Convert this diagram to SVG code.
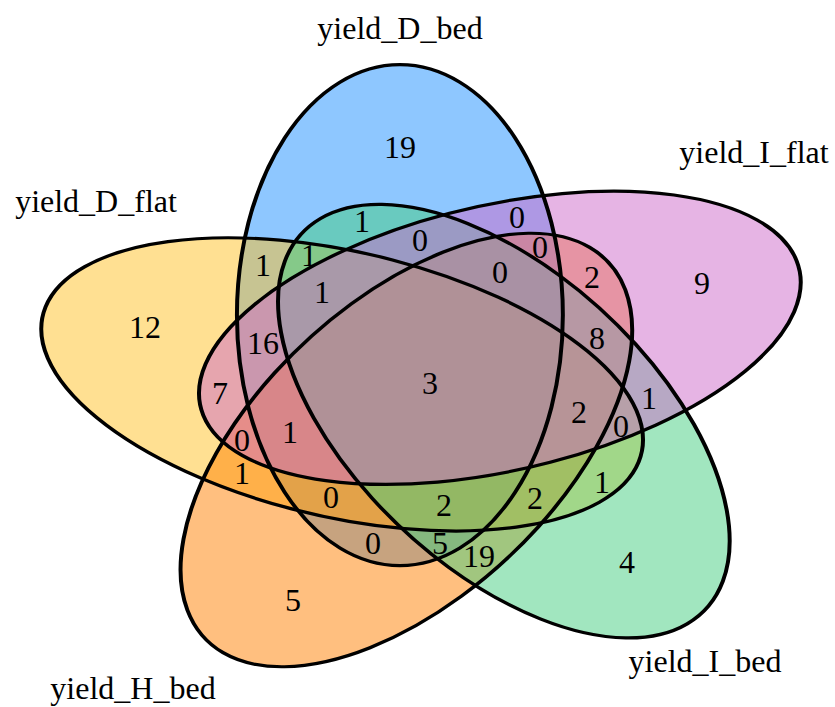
<svg xmlns="http://www.w3.org/2000/svg" width="835" height="707" viewBox="0 0 835 707">
<style>
.f{fill-opacity:0.5;stroke:none}
.o{fill:none;stroke:#000;stroke-width:3.2}
text{font-family:"Liberation Serif","Times New Roman",serif;font-size:32px;fill:#000;text-anchor:middle}
</style>
<defs>
<ellipse id="e0" cx="-24.5" cy="-66.6" rx="130.9" ry="250.5"/>
<ellipse id="e1" cx="55.8" cy="-43.9" rx="130.9" ry="250.5" transform="rotate(72 55.8 -43.9)"/>
<ellipse id="e2" cx="59.0" cy="39.5" rx="130.9" ry="250.5" transform="rotate(144 59.0 39.5)"/>
<ellipse id="e3" cx="-19.3" cy="68.3" rx="130.9" ry="250.5" transform="rotate(216 -19.3 68.3)"/>
<ellipse id="e4" cx="-70.9" cy="2.7" rx="130.9" ry="250.5" transform="rotate(288 -70.9 2.7)"/>
</defs>
<rect width="835" height="707" fill="#fff"/>
<g transform="translate(430.4,381.7) scale(1.245,1)">
<g id="set_D_bed"><use href="#e0" class="f" fill="#1E90FF"/></g>
<g id="set_D_flat"><use href="#e4" class="f" fill="#FFC125"/></g>
<g id="set_H_bed"><use href="#e3" class="f" fill="#FF7F00"/></g>
<g id="set_I_bed"><use href="#e2" class="f" fill="#43CD80"/></g>
<g id="set_I_flat"><use href="#e1" class="f" fill="#CD69C9"/></g>
<g id="outlines">
<use href="#e0" class="o" vector-effect="non-scaling-stroke"/>
<use href="#e1" class="o" vector-effect="non-scaling-stroke"/>
<use href="#e2" class="o" vector-effect="non-scaling-stroke"/>
<use href="#e3" class="o" vector-effect="non-scaling-stroke"/>
<use href="#e4" class="o" vector-effect="non-scaling-stroke"/>
</g>
</g>
<g id="labels">
<text x="400" y="39">yield_D_bed</text>
<text x="754" y="163">yield_I_flat</text>
<text x="96" y="212">yield_D_flat</text>
<text x="133" y="699">yield_H_bed</text>
<text x="705" y="672">yield_I_bed</text>
</g>
<g id="counts">
<text x="400" y="158">19</text>
<text x="702" y="294">9</text>
<text x="627" y="573">4</text>
<text x="293" y="611">5</text>
<text x="145" y="338">12</text>
<text x="362" y="232">1</text>
<text x="517" y="228">0</text>
<text x="263" y="276">1</text>
<text x="309" y="266">1</text>
<text x="420" y="251">0</text>
<text x="540" y="258">0</text>
<text x="500" y="283">0</text>
<text x="592" y="288">2</text>
<text x="322" y="303">1</text>
<text x="263" y="354">16</text>
<text x="597" y="349">8</text>
<text x="430" y="394">3</text>
<text x="220" y="404">7</text>
<text x="579" y="423">2</text>
<text x="649" y="409">1</text>
<text x="621" y="437">0</text>
<text x="242" y="451">0</text>
<text x="290" y="443">1</text>
<text x="242" y="484">1</text>
<text x="331" y="508">0</text>
<text x="444" y="516">2</text>
<text x="535" y="509">2</text>
<text x="602" y="493">1</text>
<text x="373" y="554">0</text>
<text x="440" y="554">5</text>
<text x="479" y="567">19</text>
</g>
</svg>
